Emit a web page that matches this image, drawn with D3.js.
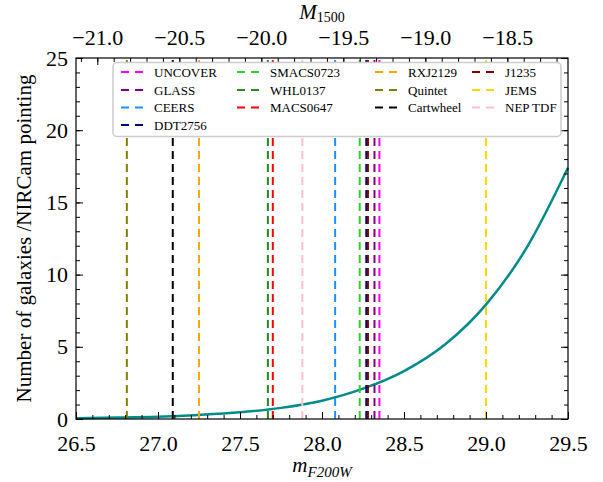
<!DOCTYPE html>
<html>
<head>
<meta charset="utf-8">
<script src="https://cdn.jsdelivr.net/npm/d3@7"></script>
<style>
  body { margin: 0; background: #fff; }
  svg { display: block; }
  .legend-text { font-family: "Liberation Serif", "DejaVu Serif", serif; font-size: 13px; fill: #000; }
  .axis-label { font-family: "Liberation Serif", "DejaVu Serif", serif; font-size: 21px; fill: #000; }
</style>
</head>
<body>
<svg id="chart" width="603" height="482"></svg>
<script>
// number counts curve (m_F200W vs galaxies per pointing)
const curveMag = [26.5, 26.75, 27.0, 27.25, 27.5, 27.75, 28.0, 28.25, 28.5, 28.75, 29.0, 29.25, 29.5];
const curveN = [0.06, 0.10, 0.16, 0.28, 0.46, 0.77, 1.27, 2.1, 3.32, 5.16, 7.92, 11.9, 17.4];

// survey depths (vertical dashed lines), legend order
const fieldNames = ["UNCOVER", "GLASS", "CEERS", "DDT2756", "SMACS0723", "WHL0137", "MACS0647",
                    "RXJ2129", "Quintet", "Cartwheel", "J1235", "JEMS", "NEP TDF"];
const fieldMag = [28.35, 28.32, 28.08, 28.27, 28.23, 27.67, 27.70, 27.25, 26.81, 27.09, 28.28, 29.00, 27.88];
const fieldColor = ["#ff00ff", "#800080", "#1e90ff", "#000080", "#32cd32", "#228b22", "#ff0000",
                    "#ffa500", "#808000", "#000000", "#800000", "#ffd700", "#ffc0cb"];

const xTicks = [26.5, 27.0, 27.5, 28.0, 28.5, 29.0, 29.5];
const yTicks = [0, 5, 10, 15, 20, 25];
const topTicks = [-21.0, -20.5, -20.0, -19.5, -19.0, -18.5];
const distMod = 47.63; // M1500 = m - distMod

function drawChart(svgId) {
    const margin = { left: 76, top: 58, right: 35, bottom: 63 };
    const svg = d3.select("#" + svgId);
    const W = +svg.attr("width") - margin.left - margin.right;
    const H = +svg.attr("height") - margin.top - margin.bottom;

    const x = d3.scaleLinear().domain([26.5, 29.5]).range([0, W]);
    const y = d3.scaleLinear().domain([0, 25]).range([H, 0]);
    const xTop = d3.scaleLinear().domain([26.5 - distMod, 29.5 - distMod]).range([0, W]);

    const g = svg.append("g").attr("transform", `translate(${margin.left},${margin.top})`);

    // curve
    const line = d3.line()
        .x(function(d, i) { return x(curveMag[i]); })
        .y(function(d) { return y(d); })
        .curve(d3.curveMonotoneX);

    g.append("path")
        .datum(curveN)
        .attr("d", line)
        .attr("fill", "none")
        .attr("stroke", "#008b8b")
        .attr("stroke-width", 2.5);

    // vertical dashed lines
    g.selectAll(".depth")
        .data(fieldMag)
        .enter().append("line")
        .attr("class", "depth")
        .attr("x1", function(d) { return x(d); })
        .attr("x2", function(d) { return x(d); })
        .attr("y1", H)
        .attr("y2", 0)
        .attr("stroke", function(d, i) { return fieldColor[i]; })
        .attr("stroke-width", 2)
        .attr("stroke-dasharray", "8,5");

    // axes, ticks inward on all four sides
    const minorX = d3.range(26.5, 29.51, 0.1).map(function(v) { return +v.toFixed(2); });
    const minorY = d3.range(0, 26, 1);
    const minorTop = d3.range(-21.1, -18.1, 0.1).map(function(v) { return +v.toFixed(2); });

    function styleAxis(sel) {
        sel.attr("font-family", '"Liberation Serif", "DejaVu Serif", serif');
        sel.selectAll(".tick line").attr("stroke", "#000").attr("stroke-width", 1);
        sel.selectAll(".tick text")
            .style("font-family", '"Liberation Serif", "DejaVu Serif", serif')
            .style("font-size", "22px")
            .attr("fill", "#000");
        sel.select(".domain").remove();
    }

    g.append("g").attr("transform", `translate(0,${H})`)
        .call(d3.axisBottom(x).tickValues(minorX).tickSize(-4).tickFormat(""))
        .call(styleAxis);
    g.append("g").attr("transform", `translate(0,${H})`)
        .call(d3.axisBottom(x).tickValues(xTicks).tickSize(-7).tickPadding(16).tickFormat(d3.format(".1f")))
        .call(styleAxis);

    g.append("g")
        .call(d3.axisTop(xTop).tickValues(minorTop).tickSize(-4).tickFormat(""))
        .call(styleAxis);
    g.append("g")
        .call(d3.axisTop(xTop).tickValues(topTicks).tickSize(-7).tickPadding(13).tickFormat(d3.format(".1f")))
        .call(styleAxis);

    g.append("g")
        .call(d3.axisLeft(y).tickValues(minorY).tickSize(-4).tickFormat(""))
        .call(styleAxis);
    g.append("g")
        .call(d3.axisLeft(y).tickValues(yTicks).tickSize(-7).tickPadding(8).tickFormat(d3.format("d")))
        .call(styleAxis);

    g.append("g").attr("transform", `translate(${W},0)`)
        .call(d3.axisRight(y).tickValues(minorY).tickSize(-4).tickFormat(""))
        .call(styleAxis);
    g.append("g").attr("transform", `translate(${W},0)`)
        .call(d3.axisRight(y).tickValues(yTicks).tickSize(-7).tickFormat(""))
        .call(styleAxis);

    // frame
    g.append("rect")
        .attr("width", W)
        .attr("height", H)
        .attr("fill", "none")
        .attr("stroke", "#000")
        .attr("stroke-width", 1.2);

    // axis labels
    const xl = svg.append("text")
        .attr("class", "axis-label")
        .attr("x", margin.left + W / 2)
        .attr("y", 472)
        .attr("text-anchor", "middle");
    xl.append("tspan").text("m").attr("font-style", "italic");
    xl.append("tspan").text("F200W").attr("font-style", "italic").attr("font-size", "15px").attr("dy", 5);

    const tl = svg.append("text")
        .attr("class", "axis-label")
        .attr("x", margin.left + W / 2)
        .attr("y", 19)
        .attr("text-anchor", "middle");
    tl.append("tspan").text("M").attr("font-style", "italic");
    tl.append("tspan").text("1500").attr("font-size", "14px").attr("dy", 3);

    svg.append("text")
        .attr("class", "axis-label")
        .attr("transform", `translate(31,${margin.top + H / 2}) rotate(-90)`)
        .attr("text-anchor", "middle")
        .text("Number of galaxies /NIRCam pointing");

    // legend, 4 columns filled column by column
    const colX = [121, 237, 375, 472];
    const rowY = [72, 90, 107.5, 125];
    const perCol = [4, 3, 3, 3];
    const items = [];
    let k = 0;
    for (let c = 0; c < perCol.length; c++) {
        for (let r = 0; r < perCol[c]; r++) {
            items.push({ name: fieldNames[k], color: fieldColor[k], x: colX[c], y: rowY[r] });
            k++;
        }
    }

    svg.append("rect")
        .attr("x", 113)
        .attr("y", 62.5)
        .attr("width", 448)
        .attr("height", 74)
        .attr("rx", 4)
        .attr("fill", "#fff")
        .attr("stroke", "#cccccc")
        .attr("stroke-width", 1.5);

    const legend = svg.selectAll(".legend")
        .data(items)
        .enter().append("g")
        .attr("class", "legend")
        .attr("transform", function(d) { return `translate(${d.x}, ${d.y})`; });

    legend.append("line")
        .attr("x1", 0)
        .attr("x2", 23)
        .attr("stroke", function(d) { return d.color; })
        .attr("stroke-width", 2)
        .attr("stroke-dasharray", "8,6");

    legend.append("text")
        .text(function(d) { return d.name; })
        .attr("x", 33)
        .attr("y", 4.5)
        .attr("class", "legend-text");
}

drawChart("chart");
</script>
</body>
</html>
